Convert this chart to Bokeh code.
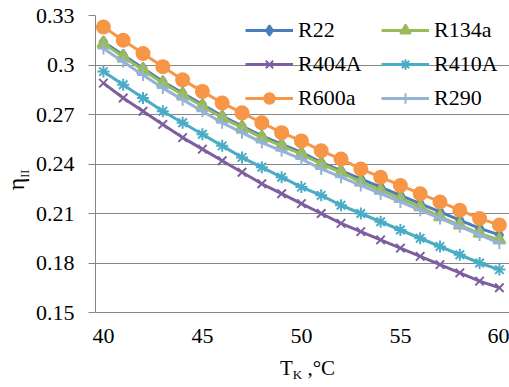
from bokeh.plotting import figure
from bokeh.layouts import row, column
from bokeh.models import FixedTicker, Range1d, Div
from bokeh.embed import file_html
from bokeh.resources import INLINE

# ---- data ----
t_k = [40, 41, 42, 43, 44, 45, 46, 47, 48, 49, 50, 51, 52, 53, 54, 55, 56, 57, 58, 59, 60]
r22 = [0.314, 0.306, 0.298, 0.290, 0.283, 0.276, 0.269, 0.263, 0.257, 0.252, 0.247,
       0.241, 0.236, 0.231, 0.226, 0.221, 0.216, 0.211, 0.206, 0.201, 0.197]
r134a = [0.313, 0.305, 0.297, 0.289, 0.282, 0.275, 0.268, 0.262, 0.256, 0.251, 0.246,
         0.240, 0.235, 0.229, 0.224, 0.219, 0.214, 0.208, 0.203, 0.198, 0.194]
r404a = [0.289, 0.280, 0.272, 0.264, 0.256, 0.249, 0.242, 0.235, 0.228, 0.222, 0.216,
         0.210, 0.204, 0.199, 0.194, 0.189, 0.184, 0.179, 0.174, 0.169, 0.165]
r410a = [0.296, 0.288, 0.280, 0.272, 0.265, 0.258, 0.251, 0.244, 0.238, 0.232, 0.226,
         0.221, 0.215, 0.210, 0.205, 0.200, 0.195, 0.190, 0.185, 0.180, 0.176]
r600a = [0.323, 0.315, 0.307, 0.299, 0.291, 0.284, 0.277, 0.271, 0.265, 0.259, 0.254,
         0.248, 0.243, 0.237, 0.232, 0.227, 0.222, 0.217, 0.212, 0.207, 0.203]
r290 = [0.310, 0.302, 0.294, 0.286, 0.279, 0.272, 0.265, 0.259, 0.253, 0.248, 0.243,
        0.237, 0.232, 0.227, 0.222, 0.217, 0.212, 0.207, 0.202, 0.197, 0.192]

series_names = ["R22", "R134a", "R404A", "R410A", "R600a", "R290"]
series_values = [r22, r134a, r404a, r410a, r600a, r290]

x_ticks = [40, 45, 50, 55, 60]
y_ticks = [0.15, 0.18, 0.21, 0.24, 0.27, 0.30, 0.33]
y_tick_labels = ["0.15", "0.18", "0.21", "0.24", "0.27", "0.3", "0.33"]
x_title_main, x_title_sub, x_title_unit = "T", "K", " ,°C"
y_title_main, y_title_sub = "η", "II"

# ---- styles ----
colors = ["#4A7EBB", "#9BBB59", "#7D5FA0", "#4BACC6", "#F79646", "#95B3D7"]
markers = ["diamond", "triangle", "x", "asterisk", "circle", "cross"]
msizes = [11, 12, 12, 12, 13, 12]
FONT = "Liberation Serif"
TXT = "22px"

W, H = 509, 387
LEFT_DIV = 30          # width of the y-title strip
BOTTOM_DIV = 32        # height of the x-title strip
FW, FH = W - LEFT_DIV, H - BOTTOM_DIV
FL, FR, FT, FB = 95, 509, 15, 312      # frame edges in page pixels
X0, X1 = 39.6, 60.51
Y0, Y1 = 0.15, 0.33

p = figure(width=FW, height=FH, output_backend="svg", toolbar_location=None,
           x_range=Range1d(X0, X1), y_range=Range1d(Y0, Y1),
           min_border_left=FL - LEFT_DIV, min_border_right=W - FR,
           min_border_top=FT, min_border_bottom=FH - FB)
p.outline_line_color = None
p.background_fill_color = "white"
p.border_fill_color = "white"

for name, vals, c, m, s in zip(series_names, series_values, colors, markers, msizes):
    p.line(t_k, vals, line_color=c, line_width=3, legend_label=name)
    p.scatter(t_k, vals, marker=m, size=s, fill_color=c, line_color=c,
              line_width=2, legend_label=name)

# axes
p.xaxis.ticker = FixedTicker(ticks=x_ticks)
p.yaxis.ticker = FixedTicker(ticks=y_ticks)
p.yaxis.major_label_overrides = {t: l for t, l in zip(y_ticks, y_tick_labels)}
for ax in (p.xaxis, p.yaxis):
    ax.axis_line_color = "#868686"
    ax.axis_line_width = 1
    ax.major_label_text_font = FONT
    ax.major_label_text_font_size = TXT
    ax.major_label_text_color = "#000000"
    ax.minor_tick_line_color = None
    ax.major_tick_line_color = "#868686"
p.xaxis.major_tick_out = 0
p.xaxis.major_tick_in = 0
p.xaxis.major_label_standoff = 16
p.yaxis.major_tick_out = 7
p.yaxis.major_tick_in = 0
p.yaxis.major_label_standoff = 14

p.xgrid.grid_line_color = None
p.ygrid.ticker = FixedTicker(ticks=y_ticks)
p.ygrid.grid_line_color = "#868686"
p.ygrid.grid_line_width = 1

# legend
lg = p.legend[0]
lg.orientation = "horizontal"
lg.ncols = 2
lg.location = (241 - FL, FB - 115)
lg.label_text_font = FONT
lg.label_text_font_size = TXT
lg.label_text_color = "#000000"
lg.glyph_width = 48
lg.glyph_height = 26
lg.label_height = 26
lg.label_width = 75
lg.label_standoff = 5
lg.spacing = 8
lg.padding = 4
lg.margin = 0
lg.border_line_alpha = 0
lg.background_fill_alpha = 0

# axis titles (HTML so that subscripts stay real text)
ydiv = Div(
    text=(f'<div style="width:44px;height:30px;margin-left:-6px;margin-top:165px;'
          f'line-height:30px;text-align:center;transform:rotate(-90deg);'
          f'font-family:\'Liberation Serif\';font-size:24px;color:#000;white-space:nowrap">'
          f'{y_title_main}<span style="font-size:12px;position:relative;top:5px">'
          f'{y_title_sub}</span></div>'),
    width=LEFT_DIV, height=FH, margin=0)
xdiv = Div(
    text=(f'<div style="margin-left:280px;margin-top:2px;line-height:22px;'
          f'font-family:\'Liberation Serif\';font-size:21px;color:#000;white-space:nowrap">'
          f'{x_title_main}<span style="font-size:13px;position:relative;top:4px">'
          f'{x_title_sub}</span>{x_title_unit}</div>'),
    width=W, height=BOTTOM_DIV, margin=0)

layout = column(row(ydiv, p, spacing=0), xdiv, spacing=0)

open("out.html", "w").write(file_html(layout, INLINE))
